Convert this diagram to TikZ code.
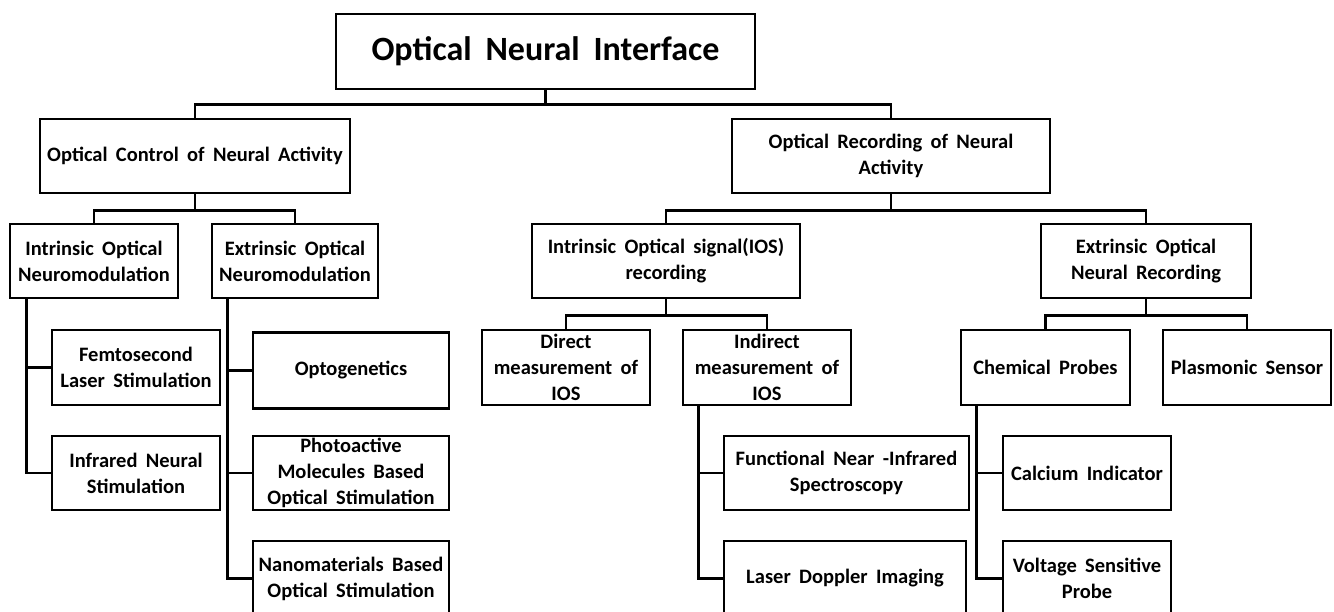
\documentclass[tikz,border=0pt]{standalone}
\usepackage{fontspec}
\setmainfont{Carlito}[WordSpace=1.8]

\begin{document}
\begin{tikzpicture}[x=1pt,y=-1pt,
	box/.style={draw, line width=2.8pt, align=center, inner sep=0pt,
		minimum width=168pt, minimum height=75pt,
		font=\fontsize{20.5}{26}\selectfont\bfseries},
	link/.style={line width=2.8pt}]
	\useasboundingbox (0,0) rectangle (1334,612);
	% top of the tree
	\node[box, minimum width=419pt, font=\fontsize{34}{40}\selectfont\bfseries] (root) at (545.5,51.5) {Optical Neural Interface};
	\node[box, minimum width=310pt, minimum height=74pt] (ctrl) at (195,156) {Optical Control of Neural Activity};
	\node[box, minimum width=318pt, minimum height=74pt] (rec) at (891,156) {Optical Recording of Neural\\Activity};
	% second level
	\node[box, minimum height=74pt] (intmod) at (94,261) {Intrinsic Optical\\Neuromodulation};
	\node[box, minimum width=166pt, minimum height=74pt] (extmod) at (295,261) {Extrinsic Optical\\Neuromodulation};
	\node[box, minimum width=268pt, minimum height=74pt] (ios) at (666,261) {Intrinsic Optical signal(IOS)\\recording};
	\node[box, minimum width=210pt, minimum height=74pt] (extrec) at (1146,261) {Extrinsic Optical\\Neural Recording};
	% leaves
	\node[box] (femto) at (136,367.5) {Femtosecond\\Laser Stimulation};
	\node[box, minimum height=74pt] (infra) at (136,473) {Infrared Neural\\Stimulation};
	\node[box, minimum width=196pt, minimum height=76pt] (opto) at (351,370.5) {Optogenetics};
	\node[box, minimum width=196pt, minimum height=74pt] (photo) at (351,473) {Photoactive\\Molecules Based\\Optical Stimulation};
	\node[box, minimum width=196pt] (nano) at (351,578.5) {Nanomaterials Based\\Optical Stimulation};
	\node[box] (direct) at (566,367.5) {Direct\\measurement of\\IOS};
	\node[box] (indirect) at (767,367.5) {Indirect\\measurement of\\IOS};
	\node[box, minimum width=245pt, minimum height=74pt] (fnirs) at (846.5,473) {Functional Near -Infrared\\Spectroscopy};
	\node[box, minimum width=242pt] (ldi) at (845,578.5) {Laser Doppler Imaging};
	\node[box, minimum width=169pt] (chem) at (1045.5,367.5) {Chemical Probes};
	\node[box] (plas) at (1247,367.5) {Plasmonic Sensor};
	\node[box, minimum height=74pt] (calc) at (1087,473) {Calcium Indicator};
	\node[box] (volt) at (1087,578.5) {Voltage Sensitive\\Probe};
	% buses
	\draw[link] (root.south) -- ++(0,14) coordinate (b0);
	\draw[link] (ctrl.north) |- (b0) -| (rec.north);
	\draw[link] (ctrl.south) -- ++(0,16) coordinate (b1);
	\draw[link] (intmod.north) |- (b1) -| (extmod.north);
	\draw[link] (rec.south) -- ++(0,16) coordinate (b2);
	\draw[link] (ios.north) |- (b2) -| (extrec.north);
	\draw[link] (ios.south) -- ++(0,16) coordinate (b3);
	\draw[link] (direct.north) |- (b3) -| (indirect.north);
	\draw[link] (extrec.south) -- ++(0,16) coordinate (b4);
	\draw[link] (chem.north) |- (b4) -| (plas.north);
	% side stems
	\draw[link] ([xshift=18pt]intmod.south west) |- (femto.west);
	\draw[link] ([xshift=18pt]intmod.south west) |- (infra.west);
	\draw[link] ([xshift=17pt]extmod.south west) |- (opto.west);
	\draw[link] ([xshift=17pt]extmod.south west) |- (photo.west);
	\draw[link] ([xshift=17pt]extmod.south west) |- (nano.west);
	\draw[link] ([xshift=17pt]indirect.south west) |- (fnirs.west);
	\draw[link] ([xshift=17pt]indirect.south west) |- (ldi.west);
	\draw[link] ([xshift=17pt]chem.south west) |- (calc.west);
	\draw[link] ([xshift=17pt]chem.south west) |- (volt.west);
\end{tikzpicture}
\end{document}
